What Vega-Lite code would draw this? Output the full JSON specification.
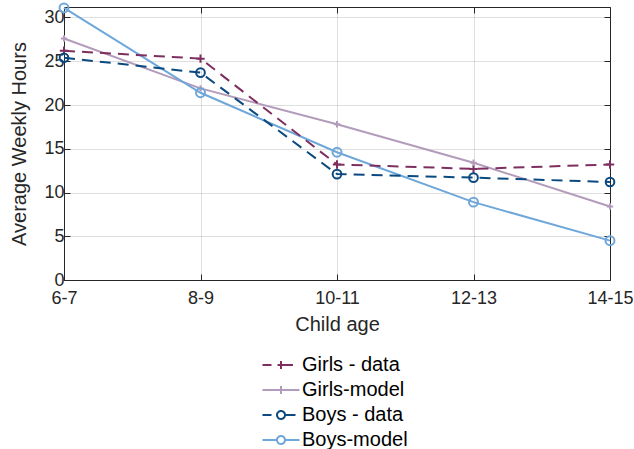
{
  "$schema": "https://vega.github.io/schema/vega-lite/v6.json",
  "width": 546,
  "height": 273,
  "autosize": {"type": "none"},
  "padding": {"left": 64, "top": 7, "right": 24, "bottom": 169},
  "background": "white",
  "config": {
    "font": "Liberation Sans",
    "view": {"stroke": "#262626", "strokeWidth": 1},
    "axis": {
      "labelFont": "Liberation Sans",
      "titleFont": "Liberation Sans",
      "labelColor": "#262626",
      "titleColor": "#262626",
      "titleFontWeight": "normal",
      "labelFontSize": 18,
      "titleFontSize": 20,
      "gridColor": "#262626",
      "gridOpacity": 0.15,
      "gridWidth": 1,
      "domain": false,
      "tickColor": "#262626",
      "tickSize": -6,
      "tickWidth": 1
    },
    "legend": {
      "labelFont": "Liberation Sans",
      "labelFontSize": 20,
      "labelColor": "#000000"
    }
  },
  "data": {
    "values": [
      {"age": "6-7", "series": "Girls - data", "hours": 26.2},
      {"age": "8-9", "series": "Girls - data", "hours": 25.3},
      {"age": "10-11", "series": "Girls - data", "hours": 13.2},
      {"age": "12-13", "series": "Girls - data", "hours": 12.7},
      {"age": "14-15", "series": "Girls - data", "hours": 13.2},
      {"age": "6-7", "series": "Girls-model", "hours": 27.6},
      {"age": "8-9", "series": "Girls-model", "hours": 21.9},
      {"age": "10-11", "series": "Girls-model", "hours": 17.8},
      {"age": "12-13", "series": "Girls-model", "hours": 13.4},
      {"age": "14-15", "series": "Girls-model", "hours": 8.4},
      {"age": "6-7", "series": "Boys - data", "hours": 25.4},
      {"age": "8-9", "series": "Boys - data", "hours": 23.7},
      {"age": "10-11", "series": "Boys - data", "hours": 12.1},
      {"age": "12-13", "series": "Boys - data", "hours": 11.7},
      {"age": "14-15", "series": "Boys - data", "hours": 11.2},
      {"age": "6-7", "series": "Boys-model", "hours": 31.1},
      {"age": "8-9", "series": "Boys-model", "hours": 21.4},
      {"age": "10-11", "series": "Boys-model", "hours": 14.6},
      {"age": "12-13", "series": "Boys-model", "hours": 8.9},
      {"age": "14-15", "series": "Boys-model", "hours": 4.5}
    ]
  },
  "encoding": {
    "x": {
      "field": "age", "type": "ordinal",
      "sort": ["6-7", "8-9", "10-11", "12-13", "14-15"],
      "scale": {"type": "point", "padding": 0}
    },
    "y": {
      "field": "hours", "type": "quantitative",
      "scale": {"domain": [0, 31.2], "nice": false}
    }
  },
  "layer": [
    {
      "transform": [{"filter": "indexof(datum.series, '-model') >= 0"}],
      "mark": {"type": "line", "strokeWidth": 2},
      "encoding": {
        "x": {
          "field": "age", "type": "ordinal",
          "sort": ["6-7", "8-9", "10-11", "12-13", "14-15"],
          "axis": {"title": "Child age", "labelAngle": 0, "grid": true, "labelPadding": 15, "titlePadding": 7}
        },
        "y": {
          "field": "hours", "type": "quantitative",
          "axis": {"title": "Average Weekly Hours", "values": [0, 5, 10, 15, 20, 25, 30], "grid": true, "labelPadding": 6, "titlePadding": 14}
        },
        "color": {
          "field": "series", "type": "nominal",
          "scale": {
            "domain": ["Girls - data", "Girls-model", "Boys - data", "Boys-model"],
            "range": ["#7E2F5F", "#B39CBB", "#0B4A80", "#6EA7DA"]
          },
          "legend": {
            "title": null,
            "orient": "none",
            "legendX": 206,
            "legendY": 347,
            "direction": "vertical",
            "padding": 0,
            "symbolSize": 400,
            "symbolStrokeWidth": 2,
            "labelOffset": 10,
            "rowPadding": 4,
            "encode": {
              "symbols": {
                "update": {
                  "shape": {"signal": "datum.value === 'Girls - data' ? 'M-1.85,0L-0.95,0M-0.35,0L1.2,0M0,-0.4L0,0.4' : datum.value === 'Girls-model' ? 'M-1.85,0L1.85,0M0,-0.4L0,0.4' : datum.value === 'Boys - data' ? 'M-1.85,0L-0.95,0M0.4,0L1.45,0M0.4,0A0.4,0.4 0 1,1 -0.4,0A0.4,0.4 0 1,1 0.4,0' : 'M-1.85,0L-0.4,0M0.4,0L1.85,0M0.4,0A0.4,0.4 0 1,1 -0.4,0A0.4,0.4 0 1,1 0.4,0'"},
                  "strokeDash": {"value": [1, 0]},
                  "fill": {"value": "transparent"},
                  "size": {"value": 400}
                }
              }
            }
          }
        }
      }
    },
    {
      "transform": [{"filter": "indexof(datum.series, ' - data') >= 0"}],
      "mark": {"type": "line", "strokeWidth": 2, "strokeDash": [11, 7]},
      "encoding": {
        "x": {"field": "age", "type": "ordinal", "sort": ["6-7", "8-9", "10-11", "12-13", "14-15"], "axis": null},
        "y": {"field": "hours", "type": "quantitative", "axis": null},
        "color": {"field": "series", "type": "nominal"}
      }
    },
    {
      "transform": [{"filter": "datum.series === 'Girls - data'"}],
      "mark": {"type": "point", "filled": false, "strokeWidth": 2, "opacity": 1, "shape": "M-1,0L1,0M0,-1L0,1", "size": 70, "color": "#7E2F5F"},
      "encoding": {
        "x": {
          "field": "age", "type": "ordinal",
          "sort": ["6-7", "8-9", "10-11", "12-13", "14-15"],
          "axis": {"orient": "top", "labels": false, "title": null, "grid": false}
        },
        "y": {
          "field": "hours", "type": "quantitative",
          "axis": {"orient": "right", "labels": false, "title": null, "grid": false, "values": [0, 5, 10, 15, 20, 25, 30]}
        }
      }
    },
    {
      "transform": [{"filter": "datum.series === 'Girls-model'"}],
      "mark": {"type": "point", "filled": false, "strokeWidth": 2, "opacity": 1, "shape": "M-1,0L1,0M0,-1L0,1", "size": 40, "color": "#B39CBB"},
      "encoding": {
        "x": {"field": "age", "type": "ordinal", "sort": ["6-7", "8-9", "10-11", "12-13", "14-15"], "axis": null},
        "y": {"field": "hours", "type": "quantitative", "axis": null}
      }
    },
    {
      "transform": [{"filter": "datum.series === 'Boys - data'"}],
      "mark": {"type": "point", "filled": false, "strokeWidth": 2, "opacity": 1, "shape": "circle", "size": 75, "color": "#0B4A80"},
      "encoding": {
        "x": {"field": "age", "type": "ordinal", "sort": ["6-7", "8-9", "10-11", "12-13", "14-15"], "axis": null},
        "y": {"field": "hours", "type": "quantitative", "axis": null}
      }
    },
    {
      "transform": [{"filter": "datum.series === 'Boys-model'"}],
      "mark": {"type": "point", "filled": false, "strokeWidth": 2, "opacity": 1, "shape": "circle", "size": 80, "color": "#6EA7DA"},
      "encoding": {
        "x": {"field": "age", "type": "ordinal", "sort": ["6-7", "8-9", "10-11", "12-13", "14-15"], "axis": null},
        "y": {"field": "hours", "type": "quantitative", "axis": null}
      }
    }
  ],
  "resolve": {"axis": {"x": "independent", "y": "independent"}}
}
